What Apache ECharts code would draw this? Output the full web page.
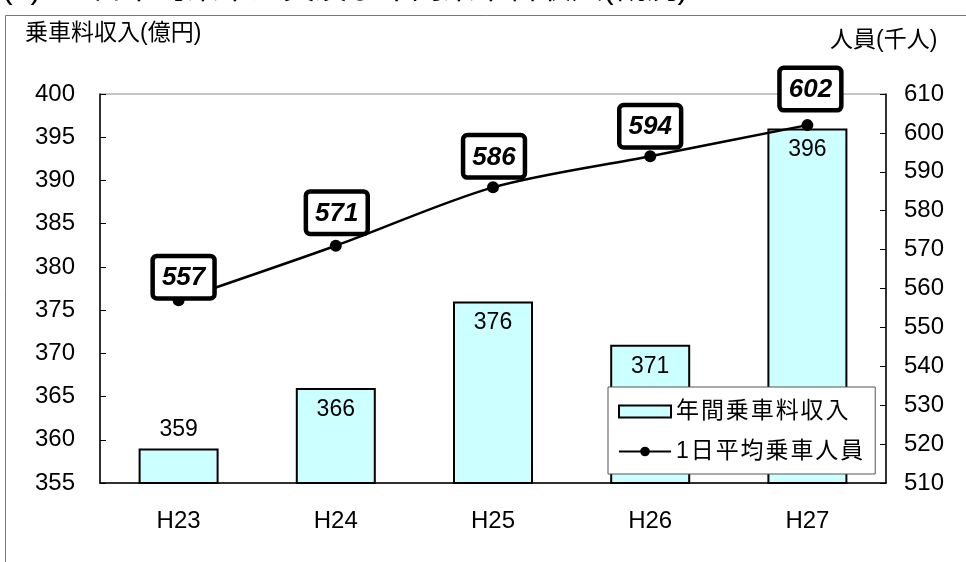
<!DOCTYPE html>
<html>
<head>
<meta charset="utf-8">
<script src="https://cdn.jsdelivr.net/npm/echarts@6/dist/echarts.min.js"></script>
<style>
  html, body { margin: 0; padding: 0; background: #fff; }
  #chart { width: 966px; height: 562px; }
</style>
</head>
<body>
<div id="chart"></div>
<script>
// 年度
const years = ["H23", "H24", "H25", "H26", "H27"]
// 年間乗車料収入(億円)
const revenue = [359, 366, 376, 371, 396]
// 1日平均乗車人員(千人)
const riders = [557, 571, 586, 594, 602]
const leftTicks = [355, 400, 5]
const rightTicks = [510, 610, 10]

// 元のグラフでは吹き出しが手で少しずつずらしてある
const riderLabelShift = [[5, 0], [1, -10], [1, -8], [0, -7], [3, -13]]

const FONT = "'Liberation Sans', 'Noto Sans CJK JP', sans-serif"
const myChart = echarts.init(document.getElementById("chart"))

myChart.setOption({
  animation: false,
  backgroundColor: "#fff",
  textStyle: { fontFamily: FONT, color: "#000" },
  grid: { left: 100, right: 80, top: 94, bottom: 79, show: true, borderColor: "#888", borderWidth: 1 },
  graphic: [
    // 外枠
    { type: "rect", left: 5, top: 15, z: -1, shape: { width: 1000, height: 600 },
      style: { fill: "#fff", stroke: "#777", lineWidth: 1 } },
    // 見出し（上端で切れている）
    { type: "text", left: 2, top: -27,
      style: { text: "(1)　1日平均乗車人員及び年間乗車料収入(概況)", font: "32px " + FONT, fill: "#000" } },
    { type: "text", left: 25, top: 22,
      style: { text: "乗車料収入(億円)", font: "23px " + FONT, fill: "#000" } },
    { type: "text", left: 830, top: 29,
      style: { text: "人員(千人)", font: "23px " + FONT, fill: "#000" } }
  ],
  legend: {
    orient: "vertical",
    left: 608, top: 387,
    padding: [13, 12, 11, 10],
    itemGap: 17,
    itemWidth: 52, itemHeight: 12,
    backgroundColor: "#fff",
    borderColor: "#555", borderWidth: 1,
    textStyle: { fontSize: 23, fontFamily: FONT, color: "#000" },
    formatter: (name) => name.split("").join("\u200a"),
    data: [
      { name: "年間乗車料収入", icon: "rect" },
      { name: "1日平均乗車人員" }
    ]
  },
  xAxis: {
    type: "category",
    data: years,
    axisLine: { lineStyle: { color: "#000", width: 1.5 } },
    axisTick: { inside: true, length: 6, lineStyle: { color: "#000" } },
    axisLabel: { fontSize: 24, color: "#000", margin: 26 }
  },
  yAxis: [
    {
      type: "value",
      min: leftTicks[0], max: leftTicks[1], interval: leftTicks[2],
      axisLine: { show: true, lineStyle: { color: "#000", width: 1.5 } },
      axisTick: { show: true, inside: true, length: 6, lineStyle: { color: "#000" } },
      axisLabel: { fontSize: 24, color: "#000", margin: 25 },
      splitLine: { show: false }
    },
    {
      type: "value",
      min: rightTicks[0], max: rightTicks[1], interval: rightTicks[2],
      axisLine: { show: true, lineStyle: { color: "#000", width: 1.5 } },
      axisTick: { show: true, inside: true, length: 6, lineStyle: { color: "#000" } },
      axisLabel: { fontSize: 24, color: "#000", margin: 18 },
      splitLine: { show: false }
    }
  ],
  series: [
    {
      name: "年間乗車料収入",
      type: "bar",
      yAxisIndex: 0,
      barWidth: 80,
      itemStyle: { color: "#CCFFFF", borderColor: "#000", borderWidth: 2 },
      data: revenue.map((v, i) => ({
        value: v,
        label: { position: i === 0 ? "top" : "insideTop", distance: i === 0 ? 7 : 10 }
      })),
      label: { show: true, fontSize: 23, color: "#000", fontFamily: FONT }
    },
    {
      name: "1日平均乗車人員",
      type: "line",
      yAxisIndex: 1,
      smooth: 0.3,
      symbol: "circle",
      symbolSize: 12,
      itemStyle: { color: "#000" },
      lineStyle: { color: "#000", width: 2.5 },
      data: riders.map((v, i) => ({ value: v, label: { offset: riderLabelShift[i] } })),
      z: 5,
      label: {
        show: true,
        position: "top",
        distance: -2,
        fontSize: 26,
        fontStyle: "italic",
        fontWeight: "bold",
        color: "#000",
        fontFamily: FONT,
        backgroundColor: "#fff",
        borderColor: "#000",
        borderWidth: 4.5,
        borderRadius: 2,
        padding: [7, 7, 5, 7]
      }
    }
  ]
})
</script>
</body>
</html>
